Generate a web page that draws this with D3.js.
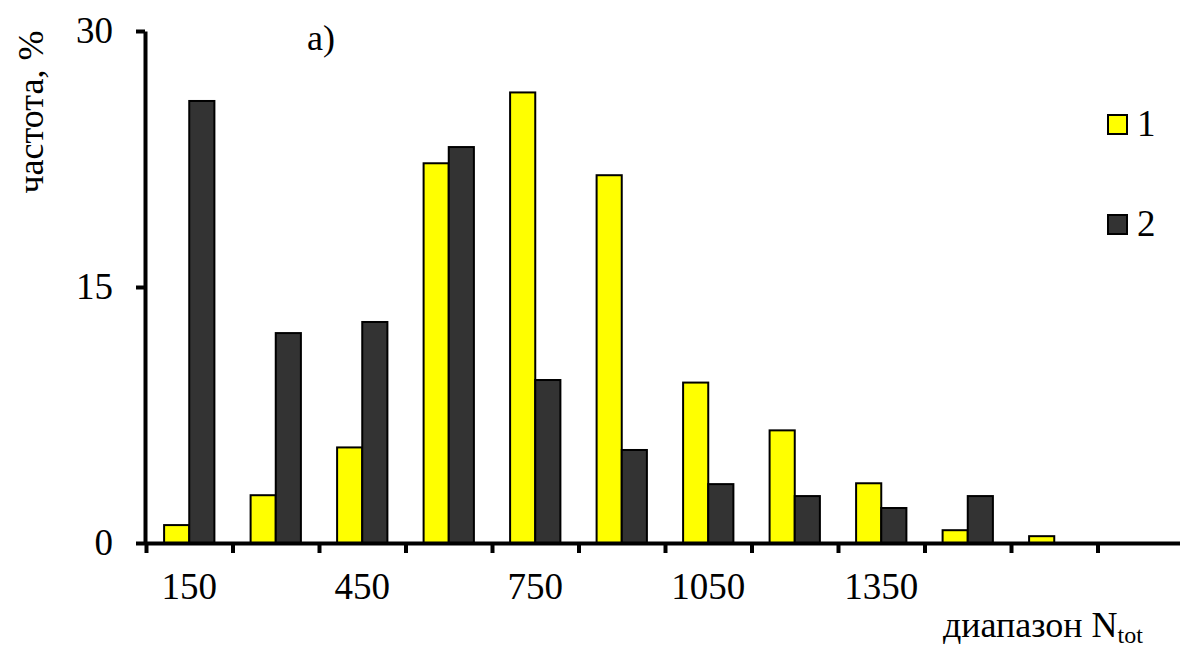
<!DOCTYPE html>
<html>
<head>
<meta charset="utf-8">
<script src="https://cdn.jsdelivr.net/npm/d3@7"></script>
</head>
<body style="margin:0">
<script>
// categories (range centres, N_tot)
const categories = ["150", "300", "450", "600", "750", "900", "1050", "1200", "1350", "1500", "1650", "1800"];
const tickLabels = ["150", "450", "750", "1050", "1350"];
const seriesNames = ["1", "2"];
// frequency, %
const series1 = [1.05, 2.8, 5.6, 22.25, 26.4, 21.55, 9.4, 6.6, 3.5, 0.75, 0.4, 0];
const series2 = [25.9, 12.3, 12.95, 23.2, 9.55, 5.45, 3.45, 2.75, 2.05, 2.75, 0, 0];
const yTicks = [0, 15, 30];

const width = 1180, height = 646;
const colors = {"1": "#ffff00", "2": "#333333"};
const serif = "Liberation Serif";

const svg = d3.select("body").append("svg")
    .attr("width", width)
    .attr("height", height);

const x0 = 146, step = 86.5;
const x = d3.scaleBand()
    .domain(categories)
    .range([x0, x0 + step * categories.length])
    .padding(0);

const xs = d3.scaleBand()
    .domain(seriesNames)
    .range([0, x.bandwidth()])
    .paddingInner(0)
    .paddingOuter(0.72);

const y = d3.scaleLinear()
    .domain([0, 30])
    .range([543, 31]);

const data = categories.map((c, i) => ({cat: c, values: [
  {s: "1", v: series1[i]},
  {s: "2", v: series2[i]}
]}));

// bars
const grp = svg.append("g").selectAll("g")
  .data(data)
  .enter().append("g")
    .attr("transform", d => "translate(" + x(d.cat) + ",0)");

grp.selectAll("rect")
  .data(d => d.values.filter(e => e.v > 0))
  .enter().append("rect")
    .attr("x", d => xs(d.s))
    .attr("width", xs.bandwidth())
    .attr("y", d => y(d.v))
    .attr("height", d => y(0) - y(d.v))
    .attr("fill", d => colors[d.s])
    .attr("stroke", "#000")
    .attr("stroke-width", 2);

// x axis: tick marks between categories
const xEdges = d3.scaleLinear().domain([0, categories.length]).range(x.range());
svg.append("g")
    .attr("transform", "translate(0," + y(0) + ")")
    .call(d3.axisBottom(xEdges).tickValues(d3.range(0, categories.length)).tickSize(10).tickSizeOuter(0).tickFormat(""))
    .call(g => g.select(".domain").attr("stroke-width", 4))
    .call(g => g.selectAll(".tick line").attr("stroke-width", 4).attr("y1", 0));

// y axis lines
svg.append("g")
    .attr("transform", "translate(145,0)")
    .call(d3.axisLeft(y).tickValues(yTicks).tickSize(9).tickSizeOuter(0).tickFormat(""))
    .call(g => g.select(".domain").attr("stroke-width", 4))
    .call(g => g.selectAll(".tick line").attr("stroke-width", 4));

// tick labels
svg.append("g").selectAll("text")
  .data(tickLabels)
  .enter().append("text")
    .attr("x", d => x(d) + x.bandwidth() / 2)
    .attr("y", 599)
    .attr("text-anchor", "middle")
    .style("font-family", serif)
    .style("font-size", "37px")
    .text(d => d);

svg.append("g").selectAll("text")
  .data(yTicks)
  .enter().append("text")
    .attr("x", 113)
    .attr("y", d => y(d) + 12)
    .attr("text-anchor", "end")
    .style("font-family", serif)
    .style("font-size", "37px")
    .text(d => d);

// axis titles
svg.append("text")
    .attr("transform", "translate(43,112) rotate(-90)")
    .attr("text-anchor", "middle")
    .style("font-family", serif)
    .style("font-size", "36px")
    .text("частота, %");

const xt = svg.append("text")
    .attr("x", 943)
    .attr("y", 637)
    .style("font-family", serif)
    .style("font-size", "36px");
xt.append("tspan").text("диапазон N");
xt.append("tspan").style("font-size", "24px").attr("dy", 6).text("tot");

svg.append("text")
    .attr("x", 307)
    .attr("y", 50)
    .style("font-family", serif)
    .style("font-size", "36px")
    .text("а)");

// legend
const leg = svg.append("g").selectAll("g")
  .data(seriesNames)
  .enter().append("g")
    .attr("transform", (d, i) => "translate(1108," + (115 + i * 100) + ")");
leg.append("rect")
    .attr("width", 19).attr("height", 19)
    .attr("fill", d => colors[d])
    .attr("stroke", "#000").attr("stroke-width", 2);
leg.append("text")
    .attr("x", 29).attr("y", 21)
    .style("font-family", serif)
    .style("font-size", "37px")
    .text(d => d);
</script>
</body>
</html>
